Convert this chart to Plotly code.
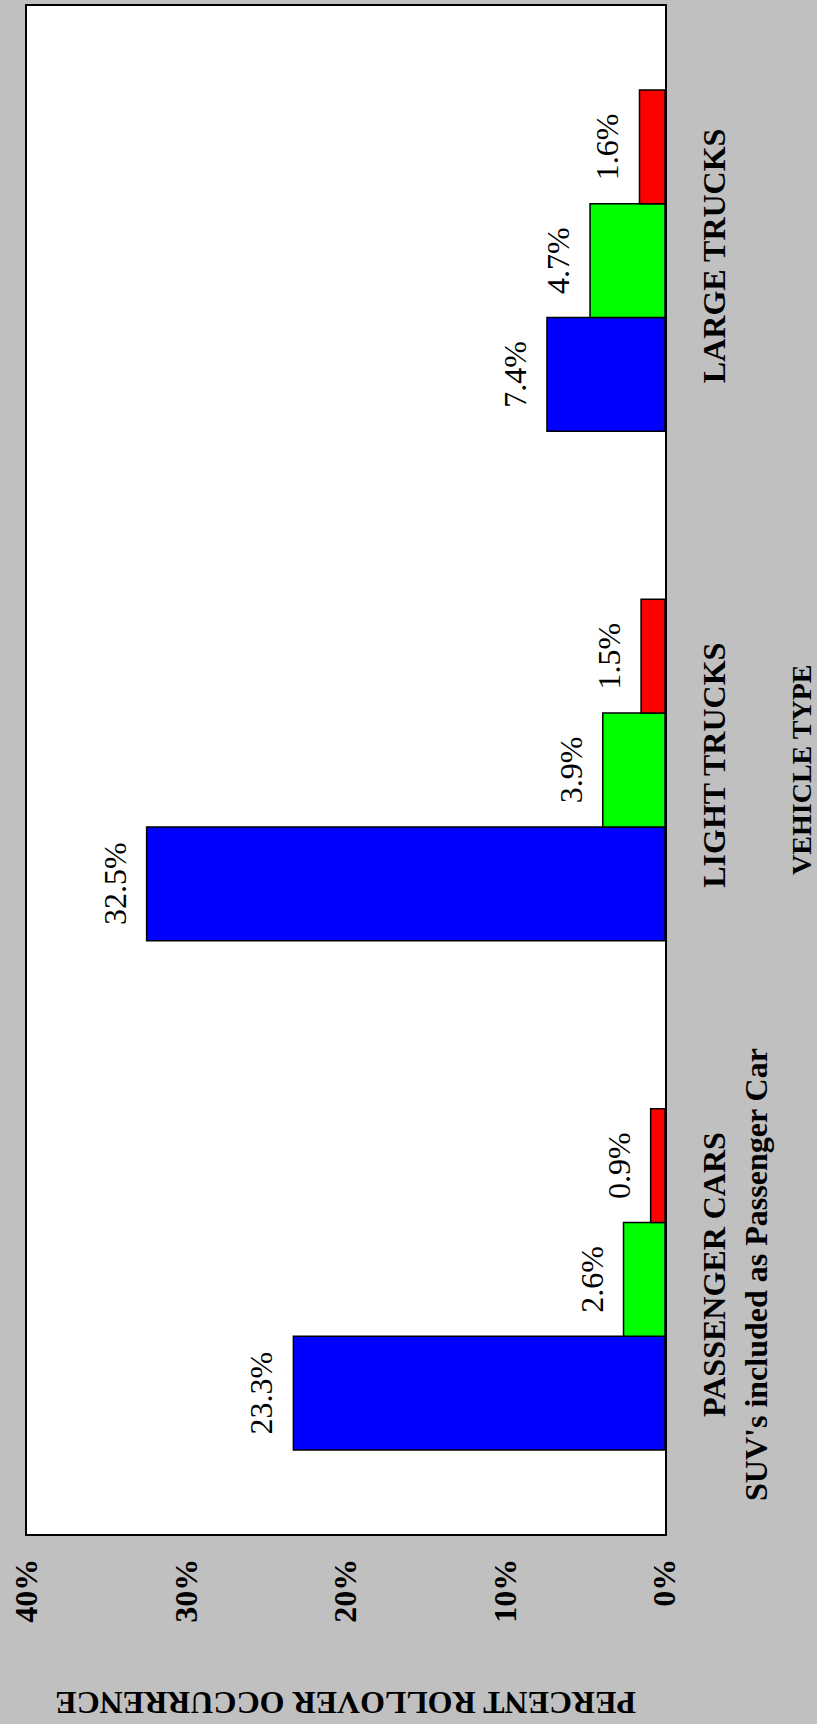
import plotly.graph_objects as go

categories = ["PASSENGER CARS<br>SUV's included as Passenger Car", "LIGHT TRUCKS", "LARGE TRUCKS"]
series_blue = [23.3, 32.5, 7.4]
series_green = [2.6, 3.9, 4.7]
series_red = [0.9, 1.5, 1.6]
series_names = ["Series 1", "Series 2", "Series 3"]
series_colors = ["#0000FF", "#00FF00", "#FF0000"]
value_ticks = [0, 10, 20, 30, 40]
value_ticktext = ["0%", "10%", "20%", "30%", "40%"]

SERIF = "Liberation Serif"
# wide non-breaking spaces on both ends enlarge the label box (symmetric),
# which pushes the value labels a little further from the bar ends
PAD = "<span style='font-size:84px'>\u00a0</span>"

fig = go.Figure()
for name, vals, col in zip(series_names, [series_blue, series_green, series_red], series_colors):
    fig.add_trace(go.Bar(
        y=categories, x=vals, name=name, orientation="h",
        marker=dict(color=col, line=dict(color="black", width=1.5)),
        texttemplate=PAD + "%{x:.1f}%" + PAD, textposition="outside", textangle=-90,
        textfont=dict(family=SERIF, size=32, color="black"),
        constraintext="none", cliponaxis=False, hoverinfo="skip",
    ))

fig.update_layout(
    width=817, height=1724, autosize=False,
    margin=dict(l=27, r=152, t=4, b=190),
    paper_bgcolor="#C0C0C0", plot_bgcolor="white",
    barmode="group", bargap=0.33, bargroupgap=0,
    showlegend=False,
    xaxis=dict(range=[40, 0], tickvals=value_ticks, ticktext=value_ticktext,
               tickangle=-90, showgrid=False, zeroline=False, ticks="",
               showline=True, mirror=True, linecolor="black", linewidth=2,
               ticklabelstandoff=10,
               tickfont=dict(family=SERIF, size=32, color="black", weight="bold")),
    yaxis=dict(side="right", tickangle=-90, showgrid=False, zeroline=False, ticks="",
               showline=True, mirror=True, linecolor="black", linewidth=2,
               ticklabelstandoff=20,
               tickfont=dict(family=SERIF, size=32, color="black", weight="bold")),
    annotations=[
        dict(text="<b>PERCENT ROLLOVER OCCURRENCE</b>", xref="paper", yref="paper",
             x=0.5, y=-0.111, xanchor="center", yanchor="middle", showarrow=False,
             textangle=180, font=dict(family=SERIF, size=32, color="black")),
        dict(text="<b>VEHICLE TYPE</b>", xref="paper", yref="paper",
             x=1.213, y=0.5, xanchor="center", yanchor="middle", showarrow=False,
             textangle=-90, font=dict(family=SERIF, size=28, color="black")),
    ],
)

fig.write_html("out.html", config={"displayModeBar": False},
               post_script="document.body.style.margin='0';document.body.style.overflow='hidden';")
